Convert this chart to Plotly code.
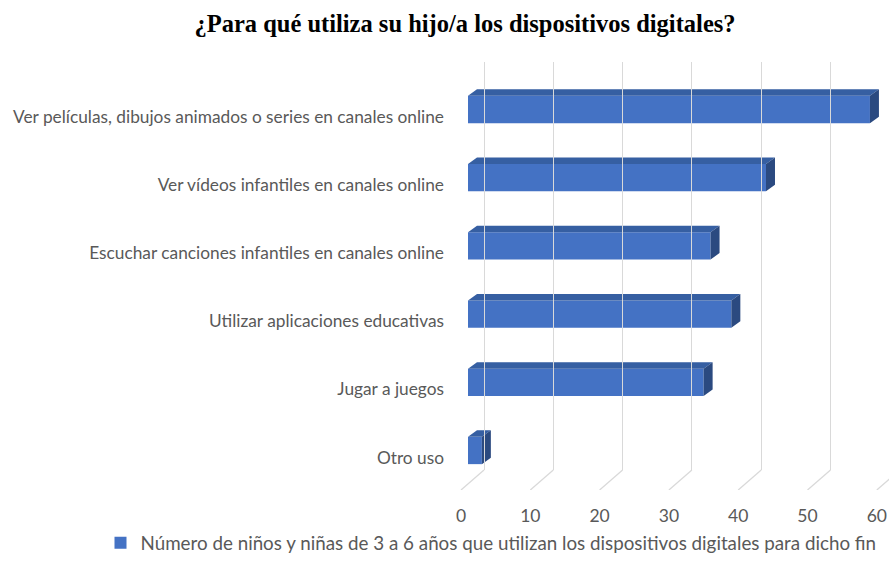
import plotly.graph_objects as go

# ---------------- data ----------------
categories = [
    "Ver películas, dibujos animados o series en canales online",
    "Ver vídeos infantiles en canales online",
    "Escuchar canciones infantiles en canales online",
    "Utilizar aplicaciones educativas",
    "Jugar a juegos",
    "Otro uso",
]
values = [58, 43, 35, 38, 34, 2]
x_ticks = [0, 10, 20, 30, 40, 50, 60]
series_name = "Número de niños y niñas de 3 a 6 años que utilizan los dispositivos digitales para dicho fin"
title_text = "¿Para qué utiliza su hijo/a los dispositivos digitales?"

# ---------------- layout geometry (pixels) ----------------
W, H = 890, 562
PPU = 6.93          # pixels per value unit
ROW = 68.2          # pixels per category row
PL, PR, PT, PB = 455, 889, 62, 490   # plot area
BAR_ZERO = 468      # front face zero
GRID_ZERO = 484     # back wall zero
LABEL_ZERO = 461    # floor front zero
FLOOR_BACK = 470
FIRST_ROW = 109.5
BAR_W = 0.40
DEPTH_X = 9 / PPU
DEPTH_Y = 6.5 / ROW

FRONT = "#4472C4"
TOP = "#365FA2"
SIDE = "#2B4A80"
TXT = "#595959"
GRID = "#D9D9D9"
FONT = "Lato, Open Sans, sans-serif"


def fx(px):
    return px / W


def fy(py):
    return 1 - py / H


x0 = -(BAR_ZERO - PL) / PPU
x1 = x0 + (PR - PL) / PPU
y_top = -(FIRST_ROW - PT) / ROW
y_bot = y_top + (PB - PT) / ROW
gx0 = -(GRID_ZERO - PL) / PPU
gx1 = gx0 + (PR - PL) / PPU

idx = list(range(len(categories)))

fig = go.Figure()

# front faces
fig.add_trace(go.Bar(
    x=values, y=idx, orientation="h", width=BAR_W,
    marker=dict(color=FRONT, line=dict(width=0)),
    name=series_name, showlegend=True,
    xaxis="x", yaxis="y",
))

# top and side faces (3D effect)
tx, ty, sx, sy = [], [], [], []
for i, v in zip(idx, values):
    t = i - BAR_W / 2
    b = i + BAR_W / 2
    tx += [0, v, v + DEPTH_X, DEPTH_X, 0, None]
    ty += [t, t, t - DEPTH_Y, t - DEPTH_Y, t, None]
    sx += [v, v + DEPTH_X, v + DEPTH_X, v, v, None]
    sy += [t, t - DEPTH_Y, b - DEPTH_Y, b, t, None]
fig.add_trace(go.Scatter(x=tx, y=ty, mode="lines", fill="toself", fillcolor=TOP,
                         line=dict(width=0, color=TOP), showlegend=False, hoverinfo="skip"))
fig.add_trace(go.Scatter(x=sx, y=sy, mode="lines", fill="toself", fillcolor=SIDE,
                         line=dict(width=0, color=SIDE), showlegend=False, hoverinfo="skip"))

# floor diagonals
fb = y_top + (FLOOR_BACK - PT) / ROW
dxs, dys = [], []
for v in x_ticks:
    dxs += [v - (BAR_ZERO - LABEL_ZERO) / PPU, v + (GRID_ZERO - BAR_ZERO) / PPU, None]
    dys += [y_bot, fb, None]
fig.add_trace(go.Scatter(x=dxs, y=dys, mode="lines", line=dict(color=GRID, width=1.3),
                         showlegend=False, hoverinfo="skip"))

# empty trace anchoring the back-wall subplot
fig.add_trace(go.Scatter(x=[], y=[], xaxis="x2", yaxis="y2", showlegend=False))

fig.update_layout(
    width=W, height=H, autosize=False,
    margin=dict(l=0, r=0, t=0, b=0),
    paper_bgcolor="white", plot_bgcolor="rgba(0,0,0,0)",
    font=dict(family=FONT, color=TXT, size=17),
    title=dict(text=title_text, x=fx(465), xanchor="center", y=fy(23), yanchor="middle",
               font=dict(family="Liberation Serif, Times New Roman, serif", size=24.5, color="black",
                         weight="bold")),
    xaxis=dict(domain=[fx(PL), fx(PR)], range=[x0, x1], tickvals=x_ticks,
               showgrid=False, zeroline=False, showline=False, ticks="",
               ticklabelshift=-(BAR_ZERO - LABEL_ZERO), ticklabelstandoff=13,
               tickfont=dict(size=17.5, color=TXT, family=FONT), anchor="y", automargin=False),
    yaxis=dict(domain=[fy(PB), fy(PT)], range=[y_bot, y_top], tickvals=idx, ticktext=categories,
               showgrid=False, zeroline=False, showline=False, ticks="",
               ticklabelshift=-7, ticklabelstandoff=10,
               tickfont=dict(size=17.3, color=TXT, family=FONT), anchor="x", automargin=False),
    xaxis2=dict(domain=[fx(PL), fx(PR)], range=[gx0, gx1], dtick=10, tick0=0,
                showgrid=True, gridcolor=GRID, gridwidth=1.3, zeroline=False,
                showticklabels=False, ticks="", showline=False, anchor="y2"),
    yaxis2=dict(domain=[fy(FLOOR_BACK), fy(PT)], range=[0, 1], showgrid=False,
                zeroline=False, showticklabels=False, ticks="", showline=False, anchor="x2"),
    legend=dict(orientation="h", x=fx(491), xanchor="center", y=0, yanchor="bottom",
                itemwidth=30, font=dict(size=18.8, color=TXT, family=FONT),
                bgcolor="rgba(0,0,0,0)"),
    showlegend=True,
)

fig.write_html("out.html")
